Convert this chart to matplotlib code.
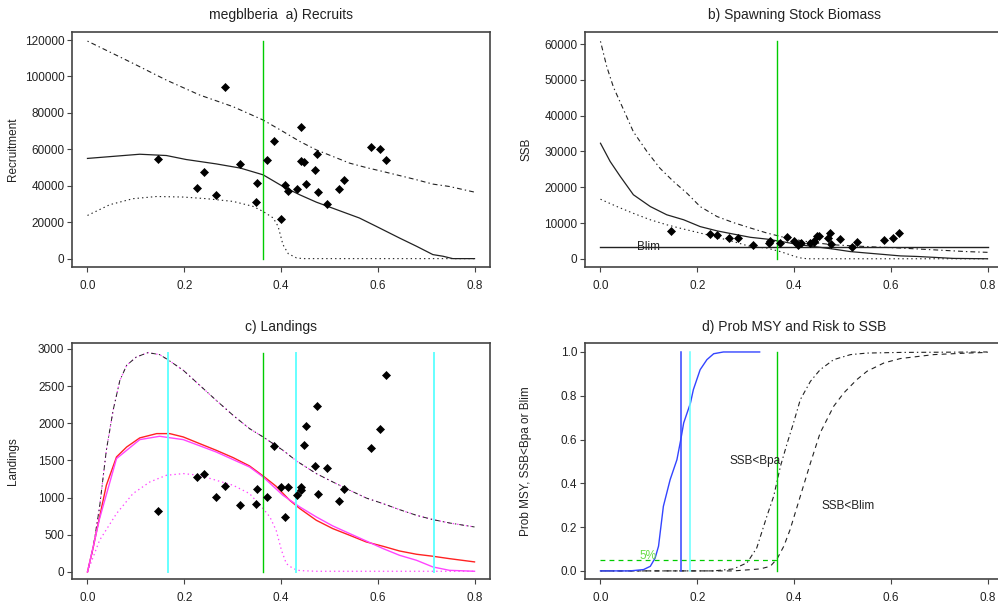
import matplotlib
matplotlib.use("Agg")
import matplotlib.pyplot as plt
import numpy as np

plt.rcParams['font.family'] = ['Liberation Sans', 'DejaVu Sans']
plt.rcParams['lines.scale_dashes'] = False

# ---------------- data ----------------
F_obs = [0.145, 0.227, 0.240, 0.266, 0.285, 0.316, 0.348, 0.351, 0.371, 0.385, 0.399, 0.409, 0.415, 0.434,
         0.442, 0.442, 0.447, 0.452, 0.470, 0.474, 0.476, 0.496, 0.520, 0.531, 0.587, 0.604, 0.618]
R_obs = [54600, 38900, 47800, 34700, 94200, 52000, 31200, 41600, 54200, 64600, 21700, 40500, 36900, 38000,
         72500, 53500, 53100, 41100, 48900, 57700, 36300, 30100, 38000, 43100, 61000, 59900, 54200]
SSB_obs = [7900, 6890, 6510, 5770, 5770, 3910, 4280, 5020, 4470, 6050, 4930, 3720, 4470, 4470,
           4930, 4600, 6330, 6230, 5770, 7170, 4190, 5390, 3350, 4750, 5300, 5770, 7170]
L_obs = [825, 1273, 1314, 1004, 1157, 901, 915, 1121, 1004, 1699, 1148, 735, 1148, 1031,
         1148, 1108, 1708, 1964, 1426, 2237, 1054, 1403, 955, 1117, 1673, 1928, 2646]

# a) recruits
rec_med_F = [0, 0.108, 0.163, 0.204, 0.266, 0.316, 0.363, 0.404, 0.439, 0.473, 0.521, 0.562, 0.597, 0.645, 0.680, 0.714, 0.735, 0.755, 0.8]
rec_med = [55000, 57300, 56600, 54400, 52000, 49700, 46000, 39600, 35000, 31000, 26300, 22300, 17700, 11300, 6800, 2200, 1300, 0, 0]
rec_hi_F = [0, 0.094, 0.163, 0.232, 0.301, 0.363, 0.404, 0.439, 0.473, 0.507, 0.542, 0.576, 0.611, 0.645, 0.680, 0.714, 0.748, 0.8]
rec_hi = [119400, 107200, 98000, 89800, 83400, 76100, 69800, 64300, 59700, 56100, 52400, 50000, 47800, 45600, 43300, 40900, 39600, 36500]
rec_lo_F = [0, 0.046, 0.094, 0.143, 0.198, 0.246, 0.301, 0.342, 0.363, 0.384, 0.394, 0.404, 0.415, 0.432, 0.445, 0.8]
rec_lo = [23700, 29600, 32900, 34100, 33800, 32900, 31400, 28700, 25900, 22300, 17700, 7700, 2700, 400, 0, 0]

# b) SSB
ssb_hi_F = [0, 0.013, 0.027, 0.048, 0.068, 0.096, 0.123, 0.151, 0.179, 0.206, 0.241, 0.275, 0.310, 0.344, 0.379, 0.413, 0.448, 0.482, 0.551, 0.620, 0.689, 0.758, 0.8]
ssb_hi = [60800, 53700, 47900, 41600, 35500, 30000, 25300, 21600, 18300, 14600, 11800, 10100, 8600, 7200, 6000, 5100, 4400, 3900, 3400, 3000, 2500, 2000, 1800]
ssb_med_F = [0, 0.02, 0.041, 0.068, 0.103, 0.137, 0.172, 0.206, 0.241, 0.275, 0.310, 0.344, 0.379, 0.413, 0.448, 0.482, 0.517, 0.551, 0.586, 0.620, 0.654, 0.689, 0.73, 0.8]
ssb_med = [32300, 27200, 23000, 17900, 14600, 12300, 10900, 9000, 7800, 6900, 6000, 5500, 4700, 3900, 3300, 2700, 2000, 1600, 1200, 800, 650, 400, 100, 0]
ssb_lo_F = [0, 0.034, 0.068, 0.103, 0.137, 0.172, 0.206, 0.241, 0.275, 0.310, 0.344, 0.372, 0.392, 0.41, 0.427, 0.8]
ssb_lo = [16650, 14600, 12700, 10900, 9500, 8300, 7200, 6000, 4800, 3400, 3000, 2000, 1100, 300, 0, 0]
Blim = 3260

# c) landings
lan_hi_F = [0, 0.012, 0.025, 0.039, 0.053, 0.067, 0.081, 0.101, 0.125, 0.149, 0.166, 0.198, 0.232, 0.266, 0.301, 0.335, 0.363, 0.404, 0.432, 0.473, 0.507, 0.542, 0.576, 0.611, 0.645, 0.680, 0.714, 0.748, 0.8]
lan_hi = [0, 336, 874, 1637, 2175, 2578, 2780, 2892, 2950, 2924, 2856, 2713, 2511, 2309, 2107, 1928, 1816, 1637, 1493, 1323, 1211, 1099, 995, 919, 838, 762, 704, 659, 605]
lan_mean_F = [0, 0.012, 0.025, 0.039, 0.06, 0.081, 0.108, 0.143, 0.17, 0.198, 0.232, 0.266, 0.301, 0.335, 0.363, 0.39, 0.418, 0.439, 0.473, 0.507, 0.542, 0.576, 0.611, 0.645, 0.680, 0.714, 0.748, 0.8]
lan_mean = [0, 336, 740, 1166, 1547, 1681, 1803, 1861, 1861, 1816, 1726, 1637, 1538, 1426, 1291, 1152, 964, 852, 695, 583, 493, 404, 345, 282, 238, 211, 179, 135]
lan_med_F = [0, 0.025, 0.06, 0.108, 0.149, 0.198, 0.266, 0.335, 0.363, 0.404, 0.439, 0.473, 0.507, 0.542, 0.576, 0.611, 0.645, 0.680, 0.714, 0.748, 0.8]
lan_med = [0, 717, 1525, 1780, 1825, 1780, 1614, 1412, 1278, 1031, 874, 740, 619, 516, 417, 314, 224, 157, 67, 22, 9]
lan_lo_F = [0, 0.025, 0.06, 0.094, 0.129, 0.163, 0.198, 0.232, 0.266, 0.301, 0.335, 0.363, 0.377, 0.39, 0.401, 0.411, 0.425, 0.439, 0.473, 0.8]
lan_lo = [0, 426, 785, 1054, 1211, 1300, 1323, 1300, 1233, 1166, 1054, 852, 740, 560, 291, 112, 45, 18, 9, 9]
F_cyan = [0.166, 0.432, 0.717]

# d) probabilities
pmsy_F = [0, 0.061, 0.089, 0.103, 0.113, 0.12, 0.130, 0.144, 0.158, 0.166, 0.172, 0.186, 0.192, 0.206, 0.22, 0.234, 0.254, 0.329]
pmsy = [0, 0, 0.006, 0.021, 0.059, 0.113, 0.295, 0.417, 0.508, 0.6, 0.676, 0.767, 0.828, 0.919, 0.965, 0.992, 1.0, 1.0]
pbpa_F = [0, 0.234, 0.275, 0.303, 0.323, 0.344, 0.358, 0.372, 0.386, 0.399, 0.413, 0.434, 0.454, 0.482, 0.517, 0.551, 0.62, 0.8]
pbpa = [0, 0, 0.009, 0.037, 0.105, 0.25, 0.341, 0.478, 0.584, 0.676, 0.782, 0.866, 0.919, 0.965, 0.988, 0.995, 0.998, 1.0]
pblim_F = [0, 0.275, 0.33, 0.351, 0.365, 0.379, 0.392, 0.413, 0.434, 0.454, 0.482, 0.503, 0.530, 0.551, 0.586, 0.62, 0.689, 0.758, 0.8]
pblim = [0, 0, 0.009, 0.021, 0.055, 0.113, 0.189, 0.341, 0.493, 0.63, 0.752, 0.813, 0.874, 0.912, 0.95, 0.97, 0.988, 0.995, 0.998]
F_msy_blue = 0.1655
F_msy_cyan = 0.184
F_green = 0.364
F_green_a = 0.363

# ---------------- styling ----------------
W, H = 998, 604
fig = plt.figure(figsize=(W / 100, H / 100), dpi=100)

GREEN = '#00cc00'
CYAN = '#66ffff'
MAG = '#ff44ff'
RED = '#ff2222'
BLUE = '#3344ff'
LINEC = '#222222'
DOTDASH = (0, (1, 2.2, 3.5, 2.2))
DOTTED = (0, (1, 2.2))
DASHED = (0, (3.5, 3))
TXT = '#222222'


def make_ax(left, top, right, bottom):
    ax = fig.add_axes([left / W, 1 - bottom / H, (right - left) / W, (bottom - top) / H])
    for s in ax.spines.values():
        s.set_color('#444444')
        s.set_linewidth(1.2)
    ax.tick_params(axis='both', direction='out', length=3.5, width=0.8, color='#444444',
                   labelsize=8.5, labelcolor=TXT)
    ax.tick_params(axis='x', pad=6)
    ax.tick_params(axis='y', pad=2)
    ax.set_xlim(-0.032, 0.832)
    ax.set_xticks([0, 0.2, 0.4, 0.6, 0.8])
    ax.set_xticklabels(['0.0', '0.2', '0.4', '0.6', '0.8'])
    return ax


def ylab(ax, text):
    ax.set_ylabel(text, fontsize=8.5, color=TXT)
    ax.yaxis.set_label_coords(-53 / 418, 0.5)


def pts(ax, x, y):
    ax.plot(x, y, linestyle='none', marker='D', markersize=3.6, markeredgewidth=0.5,
            color='black', zorder=5)


# a) Recruits
axa = make_ax(72, 32, 490, 267)
axa.plot(rec_hi_F, rec_hi, color=LINEC, lw=0.8, linestyle=DOTDASH)
axa.plot(rec_med_F, rec_med, color=LINEC, lw=0.9)
axa.plot(rec_lo_F, rec_lo, color=LINEC, lw=0.8, linestyle=DOTTED)
axa.plot([F_green_a, F_green_a], [0, max(rec_hi)], color=GREEN, lw=1.0)
pts(axa, F_obs, R_obs)
axa.set_ylim(-4600, 124400)
axa.set_yticks(np.arange(0, 120001, 20000))
ylab(axa, 'Recruitment')
axa.set_title('megblberia  a) Recruits', fontsize=10, color=TXT, pad=9)

# b) SSB
axb = make_ax(585, 32, 1003, 267)
axb.plot(ssb_hi_F, ssb_hi, color=LINEC, lw=0.8, linestyle=DOTDASH)
axb.plot(ssb_med_F, ssb_med, color=LINEC, lw=0.9)
axb.plot(ssb_lo_F, ssb_lo, color=LINEC, lw=0.8, linestyle=DOTTED)
axb.plot([0, 0.8], [Blim, Blim], color=LINEC, lw=1.0)
axb.text(0.1, Blim, 'Blim', fontsize=8.5, color=TXT, ha='center', va='center')
axb.plot([F_green, F_green], [0, max(ssb_hi)], color=GREEN, lw=1.0)
pts(axb, F_obs, SSB_obs)
axb.set_ylim(-2300, 63400)
axb.set_yticks(np.arange(0, 60001, 10000))
ylab(axb, 'SSB')
axb.set_title('b) Spawning Stock Biomass', fontsize=10, color=TXT, pad=9)

# c) Landings
axc = make_ax(72, 343, 490, 579)
axc.plot(lan_hi_F, lan_hi, color=MAG, lw=0.9, linestyle=DOTTED)
axc.plot(lan_hi_F, lan_hi, color=LINEC, lw=0.7, linestyle=DOTDASH)
axc.plot(lan_mean_F, lan_mean, color=RED, lw=1.0)
axc.plot(lan_med_F, lan_med, color=MAG, lw=1.0)
axc.plot(lan_lo_F, lan_lo, color=MAG, lw=0.9, linestyle=DOTTED)
for fc in F_cyan:
    axc.plot([fc, fc], [0, max(lan_hi)], color=CYAN, lw=1.4)
axc.plot([F_green_a, F_green_a], [0, max(lan_hi)], color=GREEN, lw=1.0)
pts(axc, F_obs, L_obs)
axc.set_ylim(-95, 3080)
axc.set_yticks(np.arange(0, 3001, 500))
ylab(axc, 'Landings')
axc.set_title('c) Landings', fontsize=10, color=TXT, pad=9)

# d) Prob MSY and risk
axd = make_ax(585, 343, 1003, 579)
axd.plot(pbpa_F, pbpa, color=LINEC, lw=0.8, linestyle=DOTDASH)
axd.plot(pblim_F, pblim, color=LINEC, lw=0.8, linestyle=DASHED)
axd.plot([0, F_green], [0.05, 0.05], color=GREEN, lw=0.9, linestyle=DASHED)
axd.plot(pmsy_F, pmsy, color=BLUE, lw=1.0)
axd.plot([F_msy_blue, F_msy_blue], [0, 1], color=BLUE, lw=1.1)
axd.plot([F_msy_cyan, F_msy_cyan], [0, 1], color=CYAN, lw=1.1)
axd.plot([F_green, F_green], [0, 1], color=GREEN, lw=1.0)
axd.text(0.098, 0.07, '5%', fontsize=8.5, color='#66dd44', ha='center', va='center')
axd.text(0.319, 0.5, 'SSB<Bpa', fontsize=8.5, color=TXT, ha='center', va='center')
axd.text(0.511, 0.295, 'SSB<Blim', fontsize=8.5, color=TXT, ha='center', va='center')
axd.set_ylim(-0.037, 1.041)
axd.set_yticks([0, 0.2, 0.4, 0.6, 0.8, 1.0])
axd.set_yticklabels(['0.0', '0.2', '0.4', '0.6', '0.8', '1.0'])
ylab(axd, 'Prob MSY, SSB<Bpa or Blim')
axd.set_title('d) Prob MSY and Risk to SSB', fontsize=10, color=TXT, pad=9)

fig.savefig('out.png', dpi=100, facecolor='white')
